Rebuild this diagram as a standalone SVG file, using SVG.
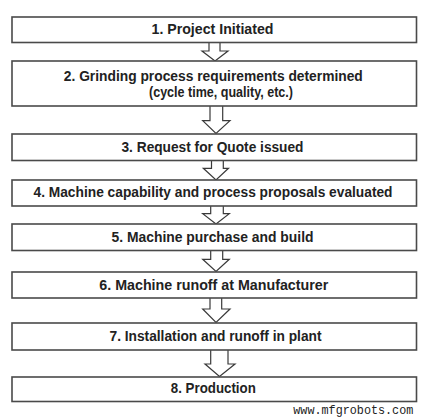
<svg xmlns="http://www.w3.org/2000/svg" width="424" height="420" viewBox="0 0 424 420">
<style>
.box{fill:#fff;stroke:#4a4a4a;stroke-width:1.6}
.arr{fill:#fff;stroke:#3a3a3a;stroke-width:1.2;stroke-linejoin:miter}
.t{font-family:"Liberation Sans",Arial,sans-serif;font-weight:bold;font-size:14px;fill:#222;text-anchor:middle}
.w{font-family:"Liberation Mono","Courier New",monospace;font-size:12px;fill:#222}
</style>
<rect width="424" height="420" fill="#fff"/>
<g id="connectors">
<path class="arr" d="M209,42.5 V51 H202 L215,61 L228,51 H220 V42.5"/>
<path class="arr" d="M210,106 V120.7 H202.7 L216,133.5 L230,120.7 H222.7 V106"/>
<path class="arr" d="M211.5,160.5 V168.3 H203.3 L216,180 L228.5,168.3 H223.3 V160.5"/>
<path class="arr" d="M210.7,206 V213.7 H202.7 L216,224 L229.3,213.7 H223.3 V206"/>
<path class="arr" d="M210.7,250.5 V259.3 H202.7 L216,271.5 L229.3,259.3 H222.7 V250.5"/>
<path class="arr" d="M210,298 V309 H202.7 L216,322.5 L230,309 H221.7 V298"/>
<path class="arr" d="M210.7,350 V364 H205 L219.5,376.5 L235,364 H228 V350"/>
</g>
<g id="n1"><rect class="box" x="12" y="17" width="404.5" height="25.5"/><text class="t" x="212.5" y="34" textLength="122" lengthAdjust="spacingAndGlyphs">1. Project Initiated</text></g>
<g id="n2"><rect class="box" x="12" y="61" width="404.5" height="45"/><text class="t" x="213.3" y="80.5" textLength="299" lengthAdjust="spacingAndGlyphs">2. Grinding process requirements determined</text><text class="t" x="221" y="96.5" textLength="144" lengthAdjust="spacingAndGlyphs">(cycle time, quality, etc.)</text></g>
<g id="n3"><rect class="box" x="12" y="134" width="404.5" height="26.5"/><text class="t" x="212.5" y="152" textLength="182" lengthAdjust="spacingAndGlyphs">3. Request for Quote issued</text></g>
<g id="n4"><rect class="box" x="12" y="180" width="404.5" height="26"/><text class="t" x="213" y="197.2" textLength="359" lengthAdjust="spacingAndGlyphs">4. Machine capability and process proposals evaluated</text></g>
<g id="n5"><rect class="box" x="12" y="224" width="404.5" height="26.5"/><text class="t" x="212.5" y="242.2" textLength="202" lengthAdjust="spacingAndGlyphs">5. Machine purchase and build</text></g>
<g id="n6"><rect class="box" x="12" y="272" width="404.5" height="26"/><text class="t" x="213.8" y="289.8" textLength="229" lengthAdjust="spacingAndGlyphs">6. Machine runoff at Manufacturer</text></g>
<g id="n7"><rect class="box" x="12" y="323" width="404.5" height="27"/><text class="t" x="215.5" y="340.5" textLength="212" lengthAdjust="spacingAndGlyphs">7. Installation and runoff in plant</text></g>
<g id="n8"><rect class="box" x="12" y="377" width="404.5" height="24.5"/><text class="t" x="213.3" y="393.2" textLength="85" lengthAdjust="spacingAndGlyphs">8. Production</text></g>
<text class="w" x="293.3" y="413.5" textLength="120" lengthAdjust="spacingAndGlyphs">www.mfgrobots.com</text>
</svg>
